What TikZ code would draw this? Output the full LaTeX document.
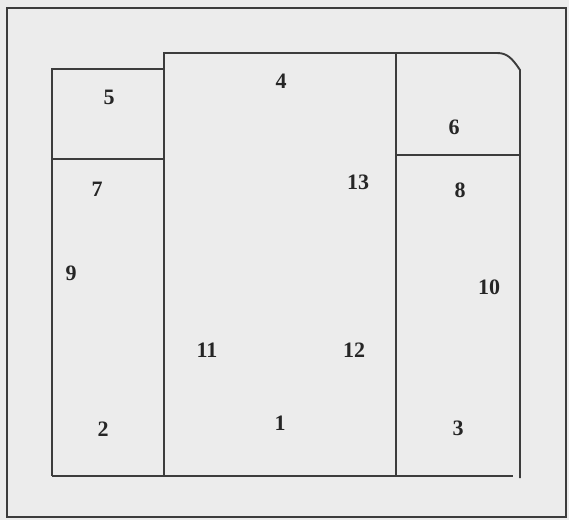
\documentclass[tikz,border=0pt]{standalone}
\usepackage{fontspec}
\setmainfont{Liberation Serif}
\usetikzlibrary{positioning}
\definecolor{pg}{HTML}{ECECEC}
\definecolor{ln}{HTML}{3C3C3C}
\tikzset{
  wall/.style={draw=ln,line width=1.9pt},
  frame/.style={draw=ln,line width=2pt},
  num/.style={font=\bfseries\fontsize{22}{22}\selectfont,text=black!85,inner sep=0pt},
}
\begin{document}
\begin{tikzpicture}[x=1pt,y=-1pt]
\fill[pg] (0,0) rectangle (569,520);
\useasboundingbox (0,0) rectangle (569,520);
\draw[frame] (7,8) rectangle (566,517);
% left strip
\draw[wall] (164,69) -- (52,69) -- (52,476);
\draw[wall] (52,159) -- (164,159);
% centre and right block
\draw[wall] (164,476) -- (164,53) -- (497,53)
  .. controls (507,53) and (512,58) .. (520,70) -- (520,478);
\draw[wall] (396,53) -- (396,476);
\draw[wall] (396,155) -- (520,155);
\draw[wall] (52,476) -- (513,476);
% room numbers
\foreach \k/\x/\y in {1/280/423, 2/103/429, 3/458/428, 4/281/81, 5/109/97,
  6/454/127, 7/97/189, 8/460/190, 9/71/273, 10/489/287, 11/207/350,
  12/354/350, 13/358/182}
  \node[num] (n\k) at (\x,\y) {\k};
\end{tikzpicture}
\end{document}
